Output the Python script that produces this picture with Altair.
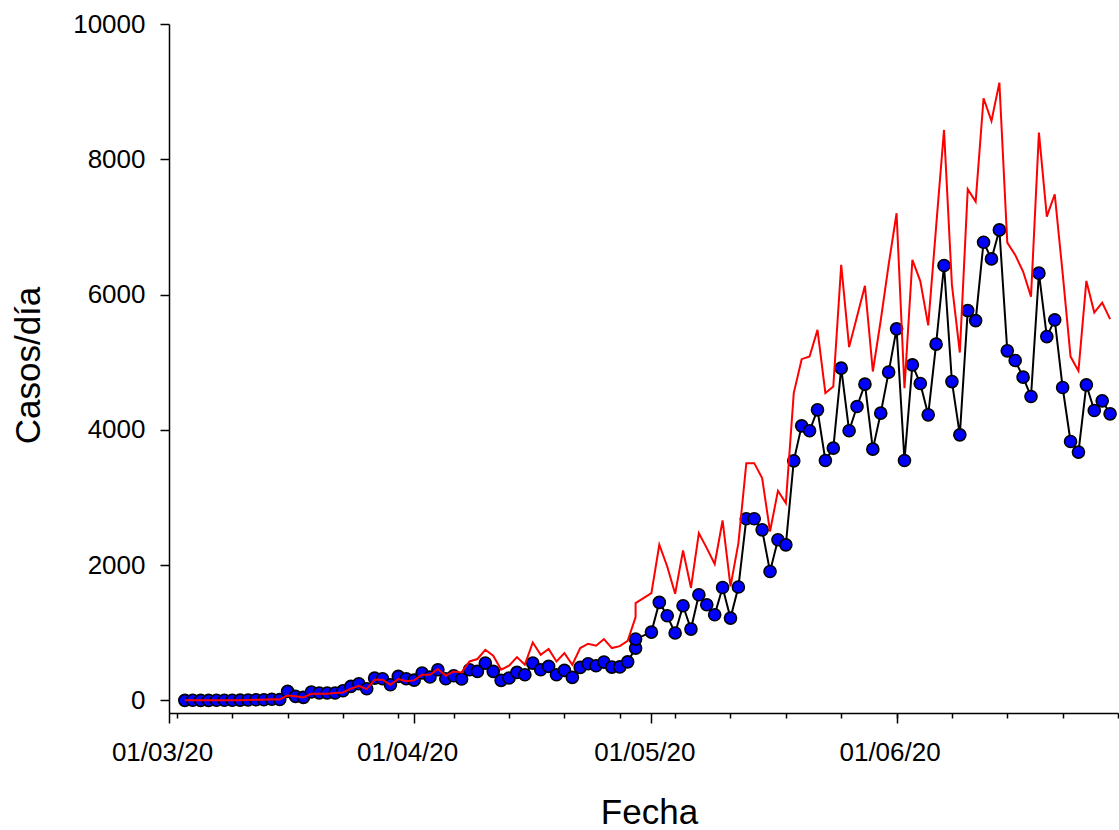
import altair as alt
import pandas as pd

# ---- data ----
fechas = ([d.strftime("%Y-%m-%dT00:00:00") for d in pd.date_range("2020-03-03", "2020-04-29")]
          + ["2020-04-29T00:00:00"]
          + [d.strftime("%Y-%m-%dT00:00:00") for d in pd.date_range("2020-05-01", "2020-06-28")])

casos_azul = [
    # 03/03 - 15/03
    1, 2, 1, 1, 2, 3, 3, 4, 6, 10, 10, 18, 14,
    # 16/03 - 01/04
    133, 60, 45, 124, 109, 109, 109, 143, 207, 247, 173, 330, 320, 232, 355, 320, 300,
    # 02/04 - 28/04
    405, 346, 454, 321, 365, 316, 454, 429, 552, 429, 296, 331, 414, 380, 552, 454,
    503, 380, 444, 340, 488, 542, 513, 567, 493, 495, 570,
    # 29/04 (x2)
    774, 907,
    # May
    1010, 1449, 1252, 996, 1400, 1055, 1562, 1414, 1266, 1670, 1217, 1676, 2685, 2685,
    2522, 1906, 2375, 2300, 3542, 4059, 3986, 4296, 3547, 3730, 4912, 3986, 4345, 4676,
    3715, 4247, 4853,
    # June
    5493, 3547, 4961, 4685, 4222, 5267, 6430, 4714, 3926, 5763, 5615, 6774, 6527, 6956,
    5168, 5025, 4779, 4493, 6316, 5379, 5626, 4626, 3828, 3671, 4665, 4286, 4429, 4237,
]

casos_rojo = [
    1, 2, 1, 1, 2, 3, 3, 4, 6, 10, 10, 18, 14,
    74, 60, 45, 99, 97, 97, 109, 118, 173, 217, 168, 306, 306, 232, 316, 285, 296,
    380, 380, 464, 365, 428, 414, 576, 612, 749, 660, 454, 513, 641, 528, 857, 675,
    760, 576, 700, 528, 774, 838, 808, 907, 774, 803, 880,
    1232, 1439,
    1587, 2301, 1980, 1577, 2217, 1665, 2474, 2252, 2016, 2660, 1685, 2326, 3508, 3508,
    3287, 2498, 3099, 2917, 4543, 5045, 5084, 5478, 4543, 4640, 6439, 5223, 5676, 6129,
    4863, 5620, 6444,
    7202, 4616, 6513, 6200, 5545, 7000, 8434, 6143, 5143, 7557, 7374, 8902, 8566, 9133,
    6768, 6586, 6340, 5970, 8394, 7152, 7483, 6316, 5083, 4872, 6202, 5734, 5882, 5636,
]

y_ticks = [0, 2000, 4000, 6000, 8000, 10000]
x_major = [(2020, 3, 1), (2020, 4, 1), (2020, 5, 1), (2020, 6, 1)]
x_minor = [(2020, 3, d) for d in (2, 9, 16, 23, 30)] + \
          [(2020, 4, d) for d in (6, 13, 20, 27)] + \
          [(2020, 5, d) for d in (4, 11, 18, 25)] + \
          [(2020, 6, d) for d in (1, 8, 15, 22, 29)]

df = pd.DataFrame({
    "fecha": fechas,
    "idx": list(range(len(fechas))),
    "azul": casos_azul,
    "rojo": casos_rojo,
})

FONT = "Liberation Sans"

def dt(t):
    return alt.DateTime(year=t[0], month=t[1], date=t[2])

x_scale = alt.Scale(domain=[dt((2020, 3, 1)), dt((2020, 6, 29))], nice=False)
y_scale = alt.Scale(domain=[-186, 10000], nice=False, zero=False)

y_axis = alt.Axis(
    values=y_ticks, format="d", tickSize=9, labelPadding=15, labelFontSize=26,
    labelFont=FONT, labelColor="black", tickColor="black", domainColor="black",
    tickWidth=1.5, domainWidth=1.5, grid=False,
    title="Casos/día", titleFont=FONT, titleFontSize=35, titleFontWeight="normal",
    titleColor="black", titleAngle=270, titleBaseline="alphabetic", titleAlign="center",
    titleX=-130, titleY=341,
)

major_axis = alt.Axis(
    orient="bottom", values=[dt(t) for t in x_major], format="%d/%m/%y",
    tickSize=10, labelPadding=37, labelBaseline="alphabetic", labelOffset=-7,
    labelFontSize=26, labelFont=FONT, labelColor="black", labelFlush=False,
    labelOverlap=False, tickColor="black", domainColor="black",
    tickWidth=1.5, domainWidth=1.5, grid=False,
    title="Fecha", titleFont=FONT, titleFontSize=35, titleFontWeight="normal",
    titleColor="black", titleBaseline="alphabetic", titleAlign="center",
    titleX=480, titleY=110,
)

minor_axis = alt.Axis(
    orient="bottom", values=[dt(t) for t in x_minor], labels=False, tickSize=5,
    tickColor="black", tickWidth=1.5, domain=False, grid=False, title=None,
)

base = alt.Chart(df)

linea_negra = base.mark_line(color="black", strokeWidth=2).encode(
    x=alt.X("fecha:T", scale=x_scale, axis=minor_axis),
    y=alt.Y("azul:Q", scale=y_scale, axis=y_axis),
    order="idx:Q",
)

puntos = base.mark_point(
    shape="circle", filled=True, fill="#0000FF", stroke="black",
    strokeWidth=1.6, size=145, opacity=1,
).encode(
    x=alt.X("fecha:T", scale=x_scale, axis=major_axis),
    y=alt.Y("azul:Q", scale=y_scale, axis=y_axis),
)

linea_roja = base.mark_line(color="#FF0000", strokeWidth=2).encode(
    x=alt.X("fecha:T", scale=x_scale, axis=None),
    y=alt.Y("rojo:Q", scale=y_scale, axis=y_axis),
    order="idx:Q",
)

chart = alt.layer(linea_negra, puntos, linea_roja).resolve_axis(
    x="independent", y="shared"
).properties(
    width=949, height=689,
    padding={"left": 169, "top": 24, "right": 1, "bottom": 117},
    autosize=alt.AutoSizeParams(type="none"),
    background="white",
).configure_view(stroke=None)

chart.save("out.html", embed_options={"renderer": "svg", "actions": False})
